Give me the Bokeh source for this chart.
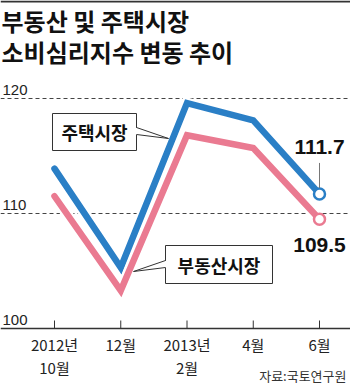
from bokeh.plotting import figure
from bokeh.models import Range1d
from bokeh.core.properties import value
from bokeh.embed import file_html
from bokeh.resources import INLINE

# Consumer sentiment indices (real estate / housing market)
months = ["2012년\n10월", "12월", "2013년\n2월", "4월", "6월"]
housing = [113.9, 105.3, 119.6, 118.1, 111.7]
real_estate = [111.5, 103.3, 116.8, 115.7, 109.5]
y_ticks = [100, 110, 120]
y_tick_labels = ["100", "110", "120"]

W, H = 350, 388
BLUE = "#2a7fc6"
PINK = "#ea7a91"
KR = "Noto Sans CJK KR"
NUM = "'Liberation Sans Narrow', 'Liberation Sans', sans-serif"

# pixel layout helpers: x index 0 sits at 54px, 66.25px per month;
# value 120 sits at 98px from the top, 11.5px per index point
X0_PX, DX_PX = 54.0, 66.25
Y120_PX, DY_PX = 98.0, 11.5


def px(xp):
    return (xp - X0_PX) / DX_PX


def py(yp):
    return 120 - (yp - Y120_PX) / DY_PX


p = figure(width=W, height=H, output_backend="svg", toolbar_location=None,
           x_range=Range1d(px(0), px(W)), y_range=Range1d(py(H), py(0)),
           min_border=0, outline_line_color=None)
p.axis.visible = False
p.grid.visible = False
p.background_fill_color = "white"
p.border_fill_color = "white"

xs = list(range(len(months)))

# top rule
p.segment(x0=[px(0)], y0=[py(1)], x1=[px(W)], y1=[py(1)], line_color="#333333", line_width=2)

# title
p.text(x=[px(1), px(1)], y=[py(20), py(51)],
       text=["부동산 및 주택시장", "소비심리지수 변동 추이"],
       text_font=value(KR), text_font_style="bold", text_font_size=value("24px"),
       text_color="#111111", text_align="left", text_baseline="middle")

# dashed gridlines and solid baseline
grid_vals = [t for t in y_ticks if t != y_ticks[0]]
p.segment(x0=[px(0)] * len(grid_vals), y0=grid_vals, x1=[px(W)] * len(grid_vals), y1=grid_vals,
          line_color="#444444", line_width=1, line_dash="4 3")
p.segment(x0=[px(0)], y0=[y_ticks[0]], x1=[px(W)], y1=[y_ticks[0]],
          line_color="#333333", line_width=1.3)

# y tick labels sit just above their lines
p.text(x=[px(2)] * len(y_ticks), y=[t + 4 / DY_PX for t in y_ticks], text=y_tick_labels,
       text_font=value(NUM), text_font_size=value("15px"), text_color="#222222",
       text_align="left", text_baseline="bottom")

# x ticks (pointing up) and labels
p.segment(x0=xs, y0=[y_ticks[0]] * len(xs), x1=xs, y1=[y_ticks[0] + 8 / DY_PX] * len(xs),
          line_color="#333333", line_width=1)
p.text(x=xs, y=[py(333)] * len(xs), text=months,
       text_font=value(KR), text_font_size=value("15px"), text_color="#222222",
       text_align="center", text_baseline="top", text_line_height=1.12)

# series lines with white casing
for series, color in ((housing, BLUE), (real_estate, PINK)):
    p.line(xs, series, line_color="white", line_width=11, line_join="miter", line_cap="round")
    p.line(xs, series, line_color=color, line_width=6.5, line_join="miter", line_cap="round")

# end markers
p.scatter([xs[-1]], [housing[-1]], size=11, fill_color="white", line_color=BLUE, line_width=2.5)
p.scatter([xs[-1]], [real_estate[-1]], size=11, fill_color="white", line_color=PINK, line_width=2.5)

# end value labels
p.segment(x0=[xs[-1]], y0=[housing[-1] + 6 / DY_PX], x1=[xs[-1]], y1=[housing[-1] + 31 / DY_PX],
          line_color="#777777", line_width=1)
p.text(x=[xs[-1]], y=[housing[-1] + 47 / DY_PX], text=[f"{housing[-1]:.1f}"],
       text_font=value(NUM), text_font_style="bold", text_font_size=value("21px"),
       text_color="#111111", text_align="center", text_baseline="middle")
p.text(x=[xs[-1]], y=[real_estate[-1] - 26 / DY_PX], text=[f"{real_estate[-1]:.1f}"],
       text_font=value(NUM), text_font_style="bold", text_font_size=value("21px"),
       text_color="#111111", text_align="center", text_baseline="middle")


# callout boxes with pointer tails
def callout(left, top, right, bottom, tail_base, tip, label, edge_x):
    p.quad(left=[px(left)], right=[px(right)], top=[py(top)], bottom=[py(bottom)],
           fill_color="white", line_color="#333333", line_width=1)
    inner = edge_x + (1 if edge_x == left else -1)
    p.patch([px(inner), px(inner), px(tip[0])],
            [py(tail_base[0]), py(tail_base[1]), py(tip[1])],
            fill_color="white", line_color=None)
    p.segment(x0=[px(edge_x)] * 2, y0=[py(tail_base[0]), py(tail_base[1])],
              x1=[px(tip[0])] * 2, y1=[py(tip[1])] * 2, line_color="#333333", line_width=1)
    p.text(x=[px((left + right) / 2)], y=[py((top + bottom) / 2)], text=[label],
           text_font=value(KR), text_font_style="bold", text_font_size=value("18px"),
           text_color="#111111", text_align="center", text_baseline="middle")


callout(52, 113, 136, 150, (127, 134), (168, 138), "주택시장", 136)
callout(165, 245, 272, 283, (260, 267), (133, 271), "부동산시장", 165)

# source
p.text(x=[px(346)], y=[py(375)], text=["자료:국토연구원"],
       text_font=value(KR), text_font_size=value("13px"), text_color="#333333",
       text_align="right", text_baseline="middle")

open("out.html", "w").write(file_html(p, INLINE))
